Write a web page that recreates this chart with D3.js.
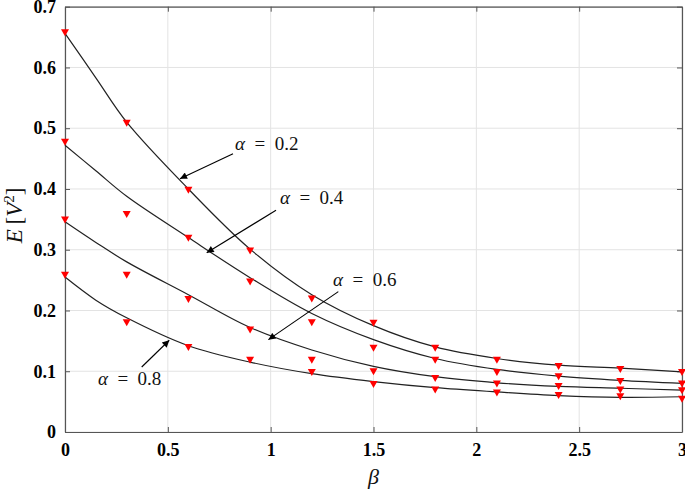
<!DOCTYPE html>
<html>
<head>
<meta charset="utf-8">
<script src="https://cdn.jsdelivr.net/npm/d3@7"></script>
<style>
  html, body { margin: 0; padding: 0; background: #fff; }
  svg { display: block; }
</style>
</head>
<body>
<svg id="chart" width="685" height="490"></svg>
<script>
// ---- data ----
const alphas = ["0.2", "0.4", "0.6", "0.8"];
const markerBeta = [0, 0.3, 0.6, 0.9, 1.2, 1.5, 1.8, 2.1, 2.4, 2.7, 3.0];
const marker02 = [0.657, 0.508, 0.398, 0.298, 0.219, 0.179, 0.138, 0.118, 0.108, 0.103, 0.098];
const marker04 = [0.477, 0.358, 0.319, 0.247, 0.180, 0.138, 0.118, 0.098, 0.091, 0.083, 0.079];
const marker06 = [0.349, 0.258, 0.218, 0.168, 0.118, 0.099, 0.088, 0.079, 0.075, 0.069, 0.068];
const marker08 = [0.258, 0.180, 0.139, 0.118, 0.098, 0.078, 0.069, 0.064, 0.060, 0.058, 0.054];

const curveBeta = [0, 0.15, 0.3, 0.6, 0.9, 1.2, 1.5, 1.8, 2.1, 2.4, 2.7, 3.0];
const curve02 = [0.656, 0.583, 0.510, 0.400, 0.301, 0.226, 0.175, 0.140, 0.121, 0.110, 0.105, 0.099];
const curve04 = [0.472, 0.430, 0.388, 0.320, 0.254, 0.195, 0.152, 0.121, 0.103, 0.092, 0.085, 0.080];
const curve06 = [0.346, 0.312, 0.280, 0.226, 0.172, 0.135, 0.108, 0.091, 0.081, 0.075, 0.072, 0.069];
const curve08 = [0.255, 0.217, 0.188, 0.142, 0.115, 0.096, 0.083, 0.073, 0.066, 0.060, 0.057, 0.058];

const xTicks = [0, 0.5, 1, 1.5, 2, 2.5, 3];
const yTicks = [0, 0.1, 0.2, 0.3, 0.4, 0.5, 0.6, 0.7];

// annotation anchors in data units: text position, arrow start, arrow tip
const annText  = [[0.827, 0.464], [1.045, 0.375], [1.303, 0.240], [0.160, 0.077]];
const annStart = [[0.817, 0.458], [1.026, 0.365], [1.329, 0.231], [0.373, 0.107]];
const annTip   = [[0.559, 0.417], [0.689, 0.295], [0.989, 0.152], [0.507, 0.151]];

const markerSeries = [marker02, marker04, marker06, marker08];
const curveSeries = [curve02, curve04, curve06, curve08];

// ---- layout ----
const svg = d3.select("#chart");
const L = 65, R = 682, T = 6.7, B = 432;
const x = d3.scaleLinear().domain([0, 3]).range([L, R]);
const y = d3.scaleLinear().domain([0, 0.7]).range([B, T]);

const defs = svg.append("defs");
defs.append("marker")
  .attr("id", "arr").attr("viewBox", "0 0 10 10")
  .attr("refX", 10).attr("refY", 5)
  .attr("markerWidth", 9).attr("markerHeight", 7)
  .attr("markerUnits", "userSpaceOnUse")
  .attr("orient", "auto")
  .append("path").attr("d", "M0,0 L10,5 L0,10 Z").attr("fill", "#000");

// grid
const grid = svg.append("g");
grid.selectAll("line.gx").data(xTicks).join("line")
  .attr("x1", d => x(d)).attr("x2", d => x(d)).attr("y1", T).attr("y2", B)
  .attr("stroke", "#e3e3e3").attr("stroke-width", 1);
grid.selectAll("line.gy").data(yTicks).join("line")
  .attr("y1", d => y(d)).attr("y2", d => y(d)).attr("x1", L).attr("x2", R)
  .attr("stroke", "#e3e3e3").attr("stroke-width", 1);

// axes (ticks inside, on all four sides)
const fontTick = "'Liberation Serif', 'Times New Roman', serif";
const axB = svg.append("g").attr("transform", `translate(0,${B})`)
  .call(d3.axisBottom(x).tickValues(xTicks).tickSizeInner(-5).tickSizeOuter(0).tickPadding(11).tickFormat(d3.format("~g")));
const axT = svg.append("g").attr("transform", `translate(0,${T})`)
  .call(d3.axisTop(x).tickValues(xTicks).tickSizeInner(-5).tickSizeOuter(0).tickFormat(""));
const axL = svg.append("g").attr("transform", `translate(${L},0)`)
  .call(d3.axisLeft(y).tickValues(yTicks).tickSizeInner(-5).tickSizeOuter(0).tickPadding(9).tickFormat(d3.format("~g")));
const axR = svg.append("g").attr("transform", `translate(${R},0)`)
  .call(d3.axisRight(y).tickValues(yTicks).tickSizeInner(-5).tickSizeOuter(0).tickFormat(""));
[axB, axT, axL, axR].forEach(a => {
  a.attr("font-family", null).attr("font-size", null);
  a.select(".domain").attr("stroke", "#555").attr("stroke-width", 1.2);
  a.selectAll(".tick line").attr("stroke", "#555");
  a.selectAll(".tick text").attr("fill", "#000")
    .attr("font-family", fontTick).attr("font-size", 18).attr("font-weight", 700)
    .style("font-family", fontTick).style("font-size", "18px").style("font-weight", "700");
});
axB.selectAll(".tick text").attr("dy", "0.71em");

// curves
const line = d3.line().x(d => x(d[0])).y(d => y(d[1])).curve(d3.curveCatmullRom.alpha(0.5));
svg.append("g").selectAll("path").data(curveSeries).join("path")
  .attr("d", s => line(curveBeta.map((b, i) => [b, s[i]])))
  .attr("fill", "none").attr("stroke", "#222").attr("stroke-width", 1.2);

// markers (downward triangles)
const tri = "M-4,-3.5 L4,-3.5 L0,3.5 Z";
const mg = svg.append("g");
markerSeries.forEach(s => {
  mg.selectAll(null).data(markerBeta.map((b, i) => [b, s[i]])).join("path")
    .attr("d", tri)
    .attr("transform", d => `translate(${x(d[0])},${y(d[1])})`)
    .attr("fill", "#ff0000");
});

// annotations
const fontMath = "'Liberation Serif', 'DejaVu Serif', serif";
const ann = svg.append("g");
alphas.forEach((a, i) => {
  ann.append("line")
    .attr("x1", x(annStart[i][0])).attr("y1", y(annStart[i][1]))
    .attr("x2", x(annTip[i][0])).attr("y2", y(annTip[i][1]))
    .attr("stroke", "#000").attr("stroke-width", 1.1)
    .attr("marker-end", "url(#arr)");
  const t = ann.append("text")
    .attr("x", x(annText[i][0])).attr("y", y(annText[i][1]))
    .style("font-family", fontMath).style("font-size", "19px").attr("fill", "#111");
  t.append("tspan").style("font-style", "italic").text("α");
  t.append("tspan").text("\u2002=\u2002" + a);
});

// axis titles
svg.append("text")
  .attr("x", (L + R) / 2).attr("y", 484)
  .attr("text-anchor", "middle")
  .style("font-family", fontMath).style("font-size", "22px").style("font-style", "italic")
  .attr("fill", "#111").text("β");

const yt = svg.append("text")
  .attr("transform", `translate(22,${(T + B) / 2 - 4}) rotate(-90)`)
  .attr("text-anchor", "middle")
  .style("font-family", fontMath).style("font-size", "23px").attr("fill", "#111");
yt.append("tspan").style("font-style", "italic").text("E");
yt.append("tspan").text("\u2009[");
yt.append("tspan").style("font-style", "italic").text("V");
yt.append("tspan").attr("dy", -8).style("font-size", "15px").text("2");
yt.append("tspan").attr("dy", 8).text("]");
</script>
</body>
</html>
